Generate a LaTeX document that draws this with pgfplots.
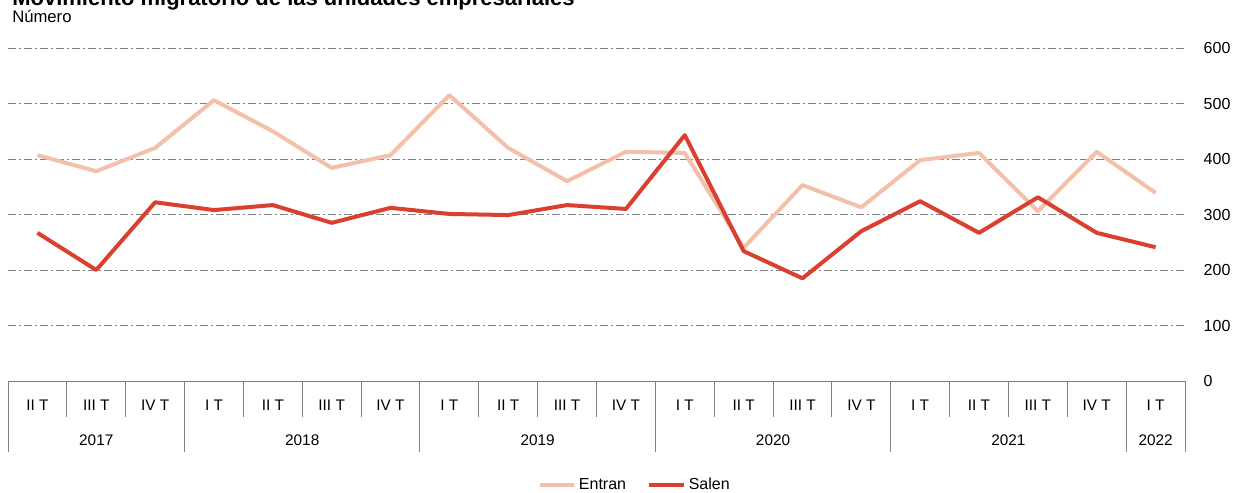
\documentclass[border=0pt]{standalone}
\usepackage{pgfplots}
\pgfplotsset{compat=1.18}
\usepackage{fontspec}
\setmainfont{Liberation Sans}

\definecolor{entran}{RGB}{243,192,170}
\definecolor{salen}{RGB}{218,64,47}
\definecolor{rejilla}{RGB}{128,128,128}
\newcommand{\fs}[1]{\fontsize{#1}{#1}\selectfont}

\begin{document}
\begin{tikzpicture}
\begin{axis}[
at={(6pt,-285.75pt)}, anchor=south west,
width=882.75pt, height=249.75pt, scale only axis,
xmin=-0.5, xmax=19.5, ymin=0, ymax=600,
axis x line*=bottom, axis y line*=right,
x axis line style={draw=none}, y axis line style={draw=none},
xtick={0,...,19},
xticklabels={II T,III T,IV T,I T,II T,III T,IV T,I T,II T,III T,IV T,I T,II T,III T,IV T,I T,II T,III T,IV T,I T},
xticklabel style={anchor=center, yshift=-18pt, font=\fs{11.5}},
ytick={0,100,...,600},
yticklabel style={anchor=west, xshift=10.5pt, font=\fs{12}},
/pgf/number format/assume math mode=true,
major tick length=0pt,
ymajorgrids,
major grid style={rejilla, line width=0.75pt, dash pattern=on 6pt off 2.25pt on 1.5pt off 2.25pt},
clip=false,
legend style={at={(0.5327,-0.3123)}, anchor=center, draw=none, fill=none,
  legend columns=2, font=\fs{12},
  /tikz/every even column/.append style={column sep=14pt}},
legend image code/.code={\draw[#1] (0pt,0pt) -- (26pt,0pt);},
]
\addplot[entran, line width=3pt, line join=round] coordinates {
(0,407) (1,378) (2,420) (3,506) (4,450) (5,384) (6,407) (7,515) (8,420) (9,360)
(10,413) (11,411) (12,240) (13,353) (14,313) (15,398) (16,411) (17,306) (18,413) (19,339)
};
\addplot[salen, line width=3pt, line join=round] coordinates {
(0,267) (1,200) (2,322) (3,308) (4,317) (5,285) (6,312) (7,301) (8,299) (9,317)
(10,310) (11,443) (12,234) (13,185) (14,270) (15,324) (16,267) (17,331) (18,267) (19,241)
};
\legend{Entran,Salen}
% tabla de categorias
\draw[rejilla, line width=0.75pt] (axis cs:-0.5,0) -- (axis cs:19.5,0);
\pgfplotsinvokeforeach{0.5,1.5,3.5,4.5,5.5,7.5,8.5,9.5,11.5,12.5,13.5,15.5,16.5,17.5}{
  \draw[rejilla, line width=0.75pt] (axis cs:#1,0) -- ++(0pt,-27pt);
}
\pgfplotsinvokeforeach{-0.5,2.5,6.5,10.5,14.5,18.5,19.5}{
  \draw[rejilla, line width=0.75pt] (axis cs:#1,0) -- ++(0pt,-53.25pt);
}
\node[font=\fs{11.5}, yshift=-44.25pt] at (axis cs:1,0) {2017};
\node[font=\fs{11.5}, yshift=-44.25pt] at (axis cs:4.5,0) {2018};
\node[font=\fs{11.5}, yshift=-44.25pt] at (axis cs:8.5,0) {2019};
\node[font=\fs{11.5}, yshift=-44.25pt] at (axis cs:12.5,0) {2020};
\node[font=\fs{11.5}, yshift=-44.25pt] at (axis cs:16.5,0) {2021};
\node[font=\fs{11.5}, yshift=-44.25pt] at (axis cs:19,0) {2022};
\end{axis}
\node[anchor=base west, font=\bfseries\fs{16.5}, inner sep=0pt] at (9pt,-3.75pt) {Movimiento migratorio de las unidades empresariales};
\node[anchor=base west, font=\fs{12.5}, inner sep=0pt] at (9pt,-16.5pt) {Número};
\pgfresetboundingbox
\path[use as bounding box] (0pt,0pt) rectangle (924.75pt,-369.75pt);
\end{tikzpicture}
\end{document}
